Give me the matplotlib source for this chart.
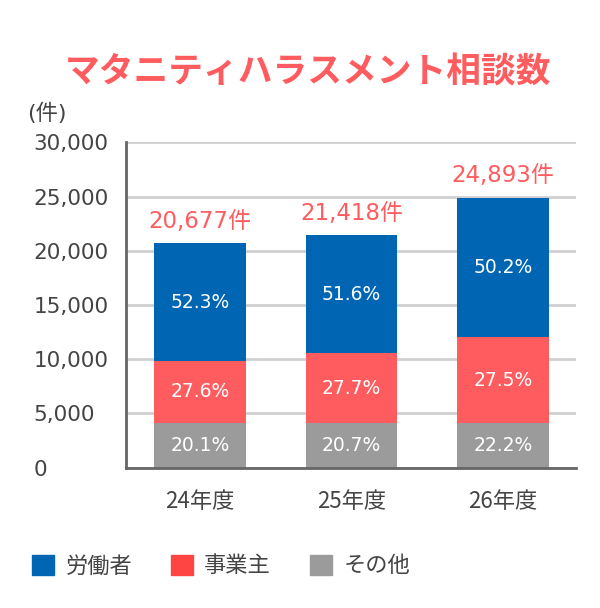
import matplotlib.pyplot as plt
from matplotlib.patches import Patch

plt.rcParams['font.family'] = ['DejaVu Sans', 'Noto Sans CJK JP']

# data
years = ["24年度", "25年度", "26年度"]
totals = [20677, 21418, 24893]
# segment heights as drawn in the reference
sono_ta = [4090, 4090, 4090]
jigyounushi = [5780, 6480, 7960]
roudousha = [10807, 10848, 12843]
pct_sono_ta = ["20.1%", "20.7%", "22.2%"]
pct_jigyounushi = ["27.6%", "27.7%", "27.5%"]
pct_roudousha = ["52.3%", "51.6%", "50.2%"]

BLUE = "#0066b3"
RED = "#ff5c5f"
GRAY = "#9b9b9b"
TXT = "#444444"

fig = plt.figure(figsize=(6, 6.08), dpi=100)
ax = fig.add_axes([0.2105, 0.2308, 0.7495, 0.5352])

x = range(len(years))
w = 0.605
b1 = ax.bar(x, sono_ta, w, color=GRAY, zorder=3)
b2 = ax.bar(x, jigyounushi, w, bottom=sono_ta, color=RED, zorder=3)
bottom3 = [a + b for a, b in zip(sono_ta, jigyounushi)]
b3 = ax.bar(x, roudousha, w, bottom=bottom3, color=BLUE, zorder=3)

for bars, labels in [(b1, pct_sono_ta), (b2, pct_jigyounushi), (b3, pct_roudousha)]:
    ax.bar_label(bars, labels=labels, label_type='center', color='white',
                 fontsize=13.5, zorder=4)

for i, t in enumerate(totals):
    top = bottom3[i] + roudousha[i]
    ax.annotate(f"{t:,}件", (i, top), xytext=(0, 16), textcoords='offset points',
                ha='center', va='center', color=RED, fontsize=16.5)

ax.set_xlim(-0.486, 2.482)
ax.set_ylim(0, 30000)
ax.set_yticks(range(0, 30001, 5000))
ax.set_yticklabels([f"{v:,}" for v in range(0, 30001, 5000)])
for lab in ax.get_yticklabels():
    lab.set_horizontalalignment('left')
ax.tick_params(axis='y', length=0, pad=67, labelsize=15.5, labelcolor=TXT)
ax.set_xticks(list(x))
ax.set_xticklabels(years, family=['Noto Sans CJK JP'])
ax.tick_params(axis='x', length=0, pad=16, labelsize=16, labelcolor=TXT)

ax.grid(axis='y', color='#d0d0d0', linewidth=2, zorder=0)
for s in ['top', 'right']:
    ax.spines[s].set_visible(False)
for s in ['left', 'bottom']:
    ax.spines[s].set_color('#666666')
    ax.spines[s].set_linewidth(2)
    ax.spines[s].set_zorder(5)

fig.text(47 / 600, 1 - 113 / 608, "(件)", ha='center', va='center',
         fontsize=16, color=TXT, family=['DejaVu Sans', 'Noto Sans CJK JP'])

fig.text(308 / 600, 1 - 72 / 608, "マタニティハラスメント相談数", ha='center', va='center',
         fontsize=25, color=RED, fontweight='bold', family=['Noto Sans CJK JP'])

handles = [Patch(color=BLUE), Patch(color="#ff4444"), Patch(color=GRAY)]
fig.legend(handles, ["労働者", "事業主", "その他"], loc='center left',
           bbox_to_anchor=(32 / 600, 1 - 566 / 608), ncol=3, frameon=False,
           handlelength=1.0, handleheight=1.0, handletextpad=0.5,
           columnspacing=1.75, prop={'family': 'Noto Sans CJK JP', 'size': 16},
           labelcolor=TXT, borderaxespad=0, borderpad=0)

plt.savefig("out.png", dpi=100)
